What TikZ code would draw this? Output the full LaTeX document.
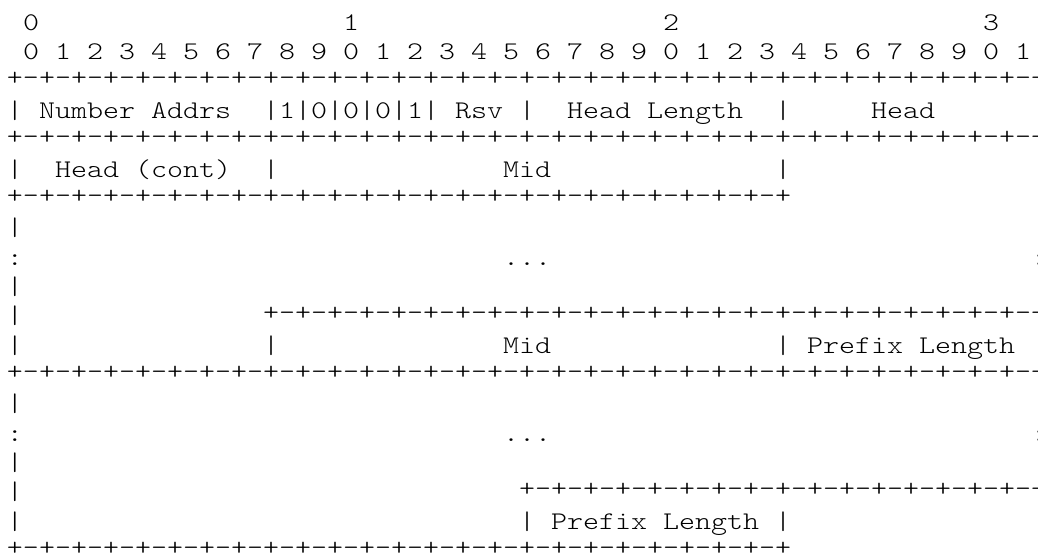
\documentclass[tikz,border=0pt]{standalone}
\usepackage{fontspec}
\newfontfamily\asciifont[FakeStretch=1.2]{lmmonolt10-regular.otf}
\def\peight{+-+-+-+-+-+-+-+-}
\def\bfull{\peight\peight\peight\peight+}
\def\bmid{\peight\peight\peight+}
\def\bshort{\peight\peight+}
\tikzset{
  txt/.style={anchor=base west, inner sep=0pt, outer sep=0pt,
    font=\asciifont\fontsize{19.048pt}{24pt}\selectfont},
  brd/.style={txt, yshift=2.5pt}
}
% #1 style, #2 name, #3 row, #4 column, #5 text
\newcommand\seg[5][txt]{\node[#1] (#2) at ({7+16*#4},{30.5+29.333*(#3-1)}) {#5};}
\begin{document}
\frenchspacing
\begin{tikzpicture}[x=0.75pt,y=-0.75pt]
\useasboundingbox (0,0) rectangle (1038,553);
\fill[white] (0,0) rectangle (1038,553);
\clip (0,0) rectangle (1038,553);
% row 1
\seg{ra}{1}{1}{0}
\seg{rb}{1}{21}{1}
\seg{rc}{1}{41}{2}
\seg{rd}{1}{61}{3}
% row 2
\seg{bits}{2}{1}{0 1 2 3 4 5 6 7 8 9 0 1 2 3 4 5 6 7 8 9 0 1 2 3 4 5 6 7 8 9 0 1}
% row 3
\seg[brd]{b3}{3}{0}{\bfull}
% row 4
\seg{r4a}{4}{0}{|}
\seg{num}{4}{2}{Number Addrs}
\seg{flags}{4}{16}{|1|0|0|0|1|}
\seg{rsv}{4}{28}{Rsv}
\seg{r4b}{4}{32}{|}
\seg{hlen}{4}{35}{Head Length}
\seg{r4c}{4}{48}{|}
\seg{head}{4}{54}{Head}
% row 5
\seg[brd]{b5}{5}{0}{\bfull}
% row 6
\seg{r6a}{6}{0}{|}
\seg{hcont}{6}{3}{Head (cont)}
\seg{r6b}{6}{16}{|}
\seg{mida}{6}{31}{Mid}
\seg{r6c}{6}{48}{|}
% row 7
\seg[brd]{b7}{7}{0}{\bmid}
% rows 8-10
\seg{r8}{8}{0}{|}
\seg{r9a}{9}{0}{:}
\seg{dotsa}{9}{31}{...}
\seg{r9b}{9}{64}{:}
\seg{r10}{10}{0}{|}
% row 11
\seg{r11}{11}{0}{|}
\seg[brd]{b11}{11}{16}{\bmid}
% row 12
\seg{r12a}{12}{0}{|}
\seg{r12b}{12}{16}{|}
\seg{midb}{12}{31}{Mid}
\seg{r12c}{12}{48}{|}
\seg{plena}{12}{50}{Prefix Length}
% row 13
\seg[brd]{b13}{13}{0}{\bfull}
% rows 14-16
\seg{r14}{14}{0}{|}
\seg{r15a}{15}{0}{:}
\seg{dotsb}{15}{31}{...}
\seg{r15b}{15}{64}{:}
\seg{r16}{16}{0}{|}
% row 17
\seg{r17}{17}{0}{|}
\seg[brd]{b17}{17}{32}{\bshort}
% row 18
\seg{r18a}{18}{0}{|}
\seg{r18b}{18}{32}{|}
\seg{plenb}{18}{34}{Prefix Length}
\seg{r18c}{18}{48}{|}
% row 19
\seg[brd]{b19}{19}{0}{\bmid}
\end{tikzpicture}
\end{document}
